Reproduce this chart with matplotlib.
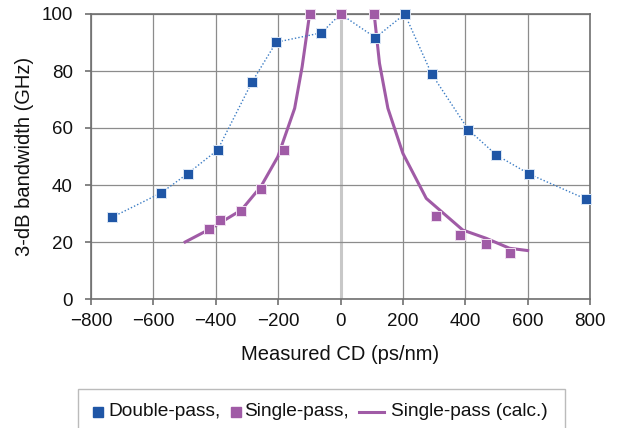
import matplotlib
matplotlib.use("Agg")
import matplotlib.pyplot as plt
from matplotlib.lines import Line2D
from matplotlib.patches import Rectangle

plt.rcParams['font.family'] = ['Liberation Sans', 'DejaVu Sans']

# Double-pass measured
dp_cd = [-732, -574, -490, -394, -284, -206, -61, 0, 112, 206, 292, 410, 500, 606, 786]
dp_bw = [28.7, 37.3, 44.0, 52.3, 76.1, 90.1, 93.4, 100, 91.7, 100, 79.0, 59.4, 50.5, 43.8, 35.1]

# Single-pass measured
sp_cd = [-423, -386, -318, -255, -182, -99, 0, 108, 307, 382, 467, 543]
sp_bw = [24.5, 27.7, 31.0, 38.7, 52.3, 100, 100, 100, 29.1, 22.6, 19.3, 16.0]

# Single-pass calculated (two branches)
calc_l_cd = [-498, -423, -318, -255, -201, -147, -123, -99]
calc_l_bw = [20.0, 24.3, 31.2, 39.5, 49.9, 66.9, 81.5, 100]
calc_r_cd = [108, 125, 152, 200, 275, 392, 467, 542, 600]
calc_r_bw = [100, 82.7, 66.9, 51.1, 35.3, 24.2, 21.3, 17.8, 17.0]

xticks = [-800, -600, -400, -200, 0, 200, 400, 600, 800]
xticklabels = ['\u2212800', '\u2212600', '\u2212400', '\u2212200', '0', '200', '400', '600', '800']
yticks = [0, 20, 40, 60, 80, 100]
legend_labels = ['Double-pass,', 'Single-pass,', 'Single-pass (calc.)']

blue = '#1f56a6'
blue_line = '#3b7cc4'
purple = '#a05ba6'

W, H = 621, 428
fig = plt.figure(figsize=(W / 100, H / 100), dpi=100)
ax = fig.add_axes([91 / W, 1 - 299 / H, (590 - 91) / W, (299 - 14) / H])

ax.set_xlim(-800, 800)
ax.set_ylim(0, 100)
ax.set_xticks(xticks)
ax.set_xticklabels(xticklabels)
ax.set_yticks(yticks)
for x in xticks:
    if x == 0:
        ax.axvline(x, color='#c8c8c8', lw=2.2, zorder=0)
    else:
        ax.axvline(x, color='#8c8c8c', lw=0.9, zorder=0)
for y in yticks:
    ax.axhline(y, color='#8c8c8c', lw=0.9, zorder=0)

for s in ax.spines.values():
    s.set_color('#707070')
    s.set_linewidth(1.2)

ax.plot(calc_l_cd, calc_l_bw, color=purple, lw=2.2, zorder=2, clip_on=False)
ax.plot(calc_r_cd, calc_r_bw, color=purple, lw=2.2, zorder=2, clip_on=False)
ax.plot(dp_cd, dp_bw, color=blue_line, lw=1.0, ls=(0, (1, 1.5)), zorder=3, clip_on=False)
ax.plot(dp_cd, dp_bw, ls='none', marker='s', ms=7.5, color=blue, mec='#dbe6f5', mew=0.7, zorder=4, clip_on=False)
ax.plot(sp_cd, sp_bw, ls='none', marker='s', ms=7.5, color=purple, mec='#f0e0f0', mew=0.7, zorder=5, clip_on=False)

ax.tick_params(axis='both', labelsize=13.5, length=4, width=1.2, color='#707070', direction='out')
ax.tick_params(axis='x', pad=6)
ax.tick_params(axis='y', pad=9)
for lab in ax.get_xticklabels() + ax.get_yticklabels():
    lab.set_color('#111111')

ax.set_xlabel('Measured CD (ps/nm)', fontsize=14.5, color='#111111')
ax.xaxis.set_label_coords(0.5, 1 - (355 - 14) / 285, transform=ax.transAxes)
ax.xaxis.label.set_verticalalignment('center')
ax.set_ylabel('3-dB bandwidth (GHz)', fontsize=14.5, color='#111111')
ax.yaxis.set_label_coords((24.5 - 91) / 499, 0.5, transform=ax.transAxes)
ax.yaxis.label.set_verticalalignment('center')

# Manual legend (pixel positions in figure coordinates)
def fx(px):
    return px / W

def fy(py):
    return 1 - py / H

frame = Rectangle((fx(78), fy(432)), fx(565) - fx(78), fy(389) - fy(432),
                  transform=fig.transFigure, facecolor='white', edgecolor='#bbbbbb',
                  lw=1.0, zorder=1)
fig.add_artist(frame)
yc = 412
lfs = 13.8
fig.add_artist(Line2D([fx(98)], [fy(yc)], ls='none', marker='s', ms=7, color=blue,
                      transform=fig.transFigure))
fig.text(fx(108), fy(yc), legend_labels[0], fontsize=lfs, va='center', ha='left', color='#111111')
fig.add_artist(Line2D([fx(235.5)], [fy(yc)], ls='none', marker='s', ms=7, color=purple,
                      transform=fig.transFigure))
fig.text(fx(244), fy(yc), legend_labels[1], fontsize=lfs, va='center', ha='left', color='#111111')
fig.add_artist(Line2D([fx(359), fx(384)], [fy(yc), fy(yc)], color=purple, lw=2.2,
                      transform=fig.transFigure))
fig.text(fx(391), fy(yc), legend_labels[2], fontsize=lfs, va='center', ha='left', color='#111111')

fig.savefig('out.png', dpi=100)
